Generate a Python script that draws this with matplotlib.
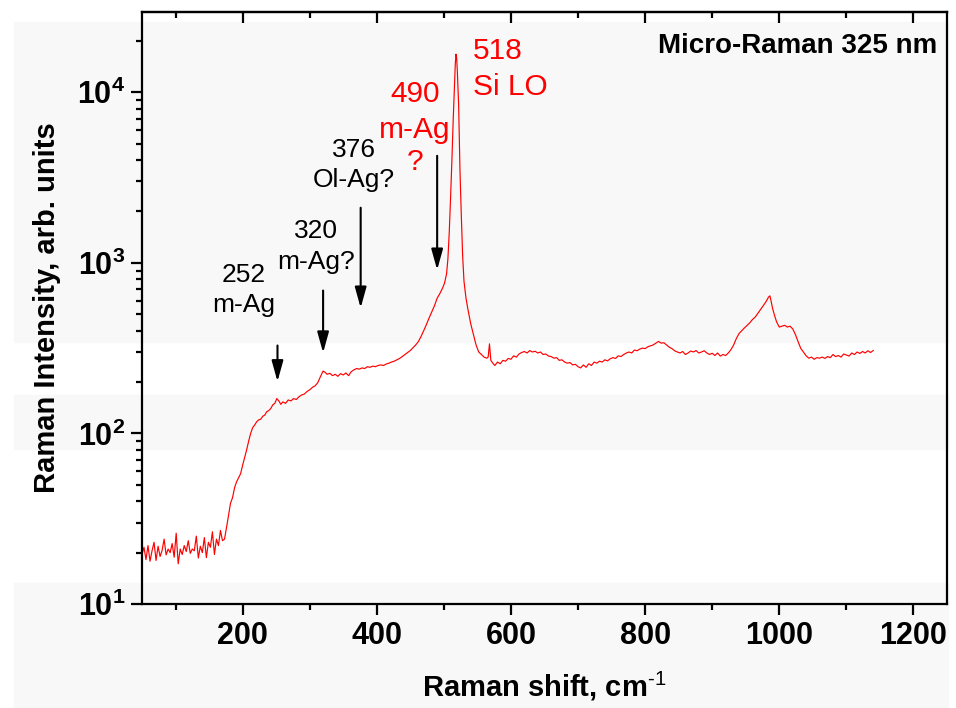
import matplotlib

matplotlib.use("Agg")

import matplotlib.pyplot as plt
from matplotlib.patches import Rectangle
from matplotlib.ticker import LogLocator, MultipleLocator, NullFormatter

plt.rcParams["font.family"] = ["Liberation Sans", "DejaVu Sans"]
plt.rcParams["mathtext.fontset"] = "custom"
plt.rcParams["mathtext.rm"] = "Liberation Sans"
plt.rcParams["mathtext.bf"] = "Liberation Sans:bold"
plt.rcParams["mathtext.default"] = "bf"

# spectrum (Raman shift in cm-1, intensity in arb. units)
shift_low = [50, 53, 56, 59, 62, 65, 68, 71, 74, 77, 80, 83, 86, 89, 92, 95, 98, 101,
             104, 107, 110, 113, 116, 119, 122, 125, 128, 131, 134, 137, 140, 143, 146,
             149, 152, 155, 158, 161, 164, 167, 170]
inten_low = [19.5, 21.5, 18.2, 22, 17.8, 20.5, 23, 18, 21.8, 19, 20.6, 24, 19.4, 21, 20,
             22.6, 18.8, 26, 17.2, 21, 19.5, 22, 20.3, 23.5, 19.8, 21, 20.5, 25, 18.6,
             21.8, 20, 24.5, 18.7, 23, 21.5, 26.5, 19.5, 24, 22, 27, 23.5]

shift_mid = [173, 176, 179, 182, 185, 188, 191, 194, 197, 200, 203, 206, 209, 212, 215,
             218, 221, 224, 227, 230, 233, 236, 239, 242, 245, 248, 251, 254, 257, 260,
             264, 268, 272, 276, 280, 284, 288, 292, 296, 300, 304, 308, 312, 316, 320,
             323, 326, 330, 334, 338, 342, 346, 350, 354, 358, 362, 366, 370, 374, 378,
             382, 386, 390, 394, 398, 402, 406, 410, 414, 418, 422, 426, 430, 434, 438,
             442, 446, 450, 454, 458, 462, 466, 470, 474, 478, 482, 486, 490, 494, 498,
             501, 504, 506]
inten_mid = [24, 28, 33, 39, 42, 48, 52, 55, 58, 65, 72, 80, 90, 100, 108, 112, 117, 120,
             121, 126, 128, 134, 136, 140, 147, 150, 160, 155, 148, 153, 150, 157, 155,
             160, 158, 164, 168, 170, 176, 180, 186, 190, 198, 215, 232, 228, 222, 225,
             218, 222, 216, 224, 220, 226, 218, 230, 236, 240, 238, 242, 240, 246, 244,
             248, 246, 250, 252, 250, 255, 258, 262, 265, 270, 275, 282, 290, 298, 306,
             318, 330, 345, 370, 400, 435, 475, 515, 560, 620, 660, 710, 760, 860, 1050]

shift_peak = [508, 510, 512, 514, 516, 517, 518, 519, 520, 522, 524, 526, 528, 530, 533,
              536, 540, 544, 548, 552, 556, 560, 564, 566, 568, 570]
inten_peak = [1500, 2400, 4000, 7000, 11500, 14500, 16700, 16000, 13500, 8500, 3500, 1900,
              1100, 780, 620, 530, 440, 380, 330, 300, 290, 280, 276, 280, 335, 268]

shift_high = [573, 576, 580, 584, 588, 592, 596, 600, 604, 608, 612, 616, 620, 624, 628,
              632, 636, 640, 644, 648, 652, 656, 660, 664, 668, 672, 676, 680, 684, 688,
              692, 696, 700, 704, 708, 712, 716, 720, 724, 728, 732, 736, 740, 744, 748,
              752, 756, 760, 764, 768, 772, 776, 780, 784, 788, 792, 796, 800, 804, 808,
              812, 816, 820, 824, 828, 832, 836, 840, 844, 848, 852, 856, 860, 864, 868,
              872, 876, 880, 884, 888, 892, 896, 900, 904, 908, 912, 916, 920, 924, 928,
              932, 936, 940, 944, 948, 952, 956, 960, 964, 968, 972, 976, 980, 984, 986,
              988, 990, 993, 996, 1000, 1004, 1008, 1012, 1016, 1020, 1024, 1028, 1032,
              1036, 1040, 1044, 1048, 1052, 1056, 1060, 1064, 1068, 1072, 1076, 1080,
              1084, 1088, 1092, 1096, 1100, 1104, 1108, 1112, 1116, 1120, 1124, 1128,
              1132, 1136, 1140]
inten_high = [258, 250, 262, 256, 268, 265, 275, 272, 285, 280, 292, 298, 302, 296, 306,
              300, 303, 296, 300, 290, 292, 284, 282, 276, 278, 268, 270, 262, 258, 260,
              252, 254, 246, 242, 252, 244, 256, 250, 262, 258, 265, 262, 270, 266, 274,
              278, 275, 285, 282, 290, 296, 300, 296, 308, 305, 312, 316, 314, 322, 326,
              330, 338, 346, 338, 340, 330, 320, 314, 305, 300, 296, 302, 290, 296, 304,
              300, 306, 296, 300, 305, 296, 290, 295, 286, 296, 284, 290, 286, 296, 310,
              330, 360, 385, 400, 415, 430, 445, 465, 480, 505, 530, 560, 590, 630, 640,
              590, 540, 490, 450, 420, 425, 430, 420, 425, 410, 380, 345, 315, 300, 285,
              276, 280, 272, 278, 276, 280, 275, 282, 278, 290, 282, 286, 280, 292, 288,
              284, 296, 290, 300, 294, 302, 296, 305, 298, 306]

shift = shift_low + shift_mid + shift_peak + shift_high
intensity = inten_low + inten_mid + inten_peak + inten_high

# labelled bands
band_labels = ["252\nm-Ag", "320\nm-Ag?", "376\nOl-Ag?", "490\nm-Ag"]
band_arrow_x = [252, 320, 376, 490]
band_arrow_from = [340, 714, 2183, 4400]
band_arrow_to = [194, 286, 524, 875]
band_colors = ["black", "black", "black", "red"]

# where each label sits (top of text block)
label_pos = [(155, 1000, "left"), (310, 1800, "center"), (366, 5400, "center"),
             (457, 11800, "center")]

fig = plt.figure(figsize=(9.56, 7.08), dpi=100)

# faint horizontal bands in the background of the original image
for y0, y1 in [(22, 342), (395, 449), (583, 708)]:
    fig.patches.append(Rectangle((14 / 956, 1 - y1 / 708), 934 / 956, (y1 - y0) / 708,
                                 transform=fig.transFigure, color="#f8f8f8", zorder=-10))

ax = fig.add_axes([0.1485, 0.1469, 0.8421, 0.8361])
ax.set_facecolor("none")
ax.plot(shift, intensity, color="red", linewidth=0.85)
ax.set_yscale("log")
ax.set_xlim(50, 1250)
ax.set_ylim(10, 29500)

ax.xaxis.set_major_locator(MultipleLocator(200))
ax.xaxis.set_minor_locator(MultipleLocator(100))
ax.yaxis.set_major_locator(LogLocator(base=10, numticks=10))
ax.yaxis.set_minor_locator(LogLocator(base=10, subs=range(2, 10), numticks=20))
ax.yaxis.set_minor_formatter(NullFormatter())

for side in ["left", "bottom", "top", "right"]:
    ax.spines[side].set_linewidth(1.6)
ax.tick_params(axis="both", which="major", direction="out", length=8, width=1.6,
               labelsize=22, pad=4)
ax.tick_params(axis="both", which="minor", direction="out", length=4.5, width=1.6)
for lab in ax.get_xticklabels() + ax.get_yticklabels():
    lab.set_fontweight("bold")

top = ax.secondary_xaxis("top")
top.xaxis.set_major_locator(MultipleLocator(200))
top.xaxis.set_minor_locator(MultipleLocator(100))
top.tick_params(axis="x", which="major", direction="in", length=8, width=1.6, labeltop=False)
top.tick_params(axis="x", which="minor", direction="in", length=4.5, width=1.6)
top.spines["top"].set_linewidth(1.6)

ax.set_xlabel("Raman shift, cm$^{\\text{-1}}$", fontsize=21, fontweight="bold", labelpad=14)
ax.set_ylabel("Raman Intensity, arb. units", fontsize=21, fontweight="bold", labelpad=12)

ax.text(0.988, 0.965, "Micro-Raman 325 nm", transform=ax.transAxes, ha="right", va="top",
        fontsize=20, fontweight="bold")

for lab, (tx, ty, al), axx, y0, y1, col in zip(band_labels, label_pos, band_arrow_x,
                                               band_arrow_from, band_arrow_to, band_colors):
    size = 21.5 if col == "red" else 19
    ax.text(tx, ty, lab, color=col, fontsize=size, ha=al, va="top", multialignment="center",
            linespacing=1.35)
    ax.annotate("", xy=(axx, y1), xytext=(axx, y0),
                arrowprops=dict(arrowstyle="-|>,head_length=0.9,head_width=0.25",
                                color="black", lw=1.5, mutation_scale=14))

# question mark under the 490 label, on its own so it sits beside the arrow
ax.text(457, 4720, "?", color="red", fontsize=21.5, ha="center", va="top")

ax.text(543, 21000, "518\nSi LO", color="red", fontsize=21.5, ha="left", va="top",
        linespacing=1.35)

fig.savefig("out.png", dpi=100)
